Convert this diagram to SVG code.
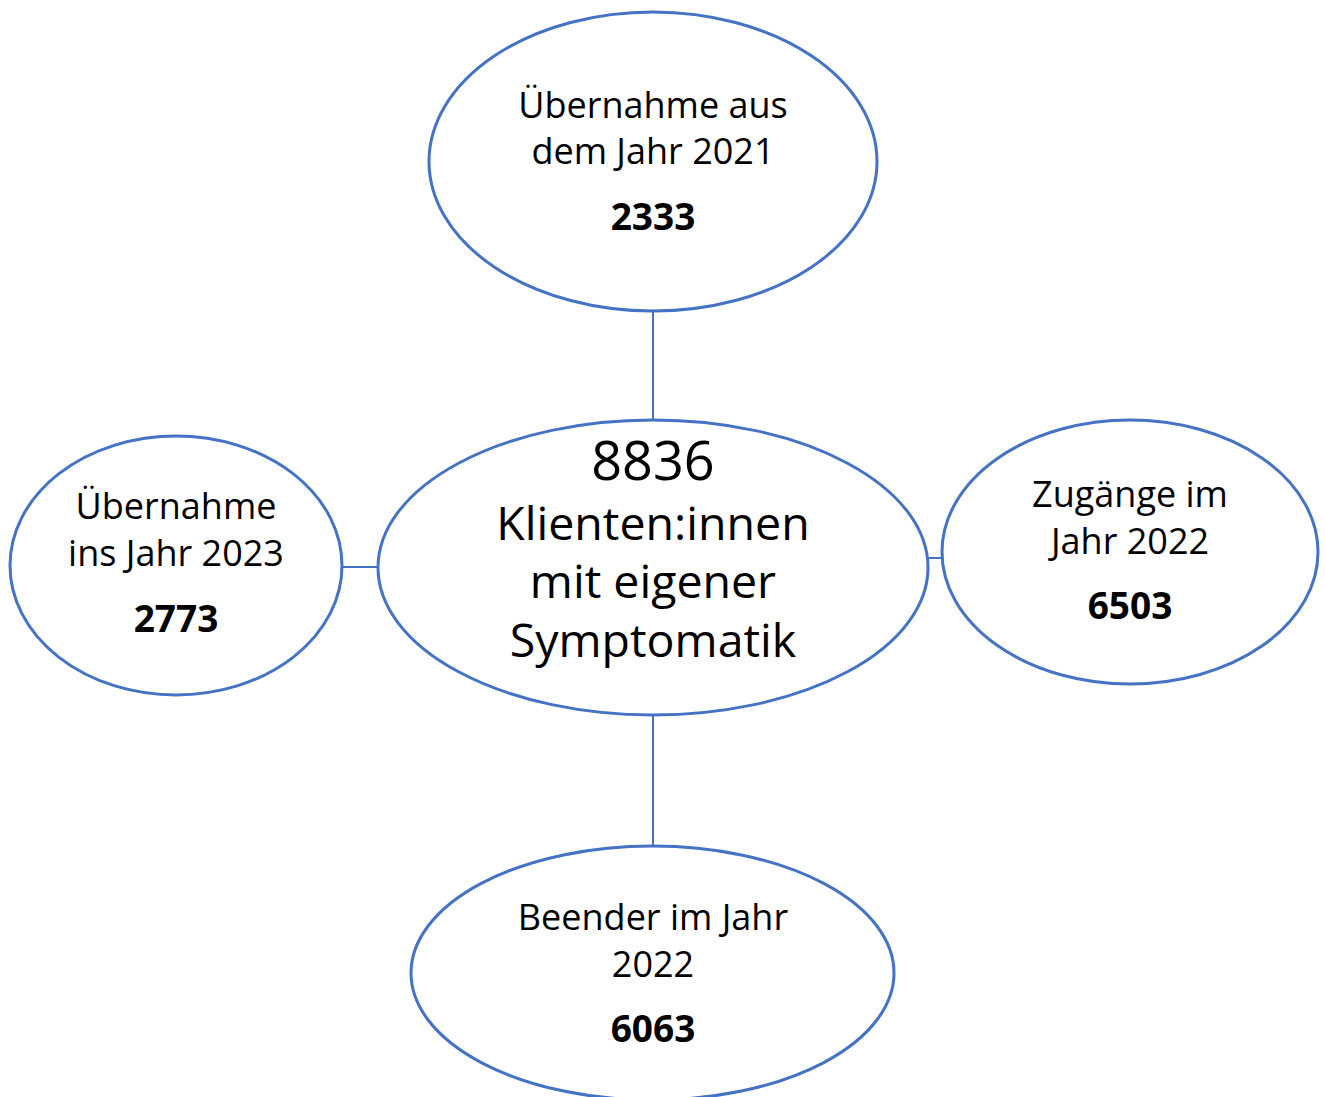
<svg xmlns="http://www.w3.org/2000/svg" width="1325" height="1097" viewBox="0 0 1325 1097">
<style>
.node{fill:#fff;stroke:#4472C4;stroke-width:3}
.conn line{stroke:#4472C4;stroke-width:2}
text{font-family:"Open Sans","Noto Sans",sans-serif;fill:#000;text-anchor:middle}
.t{font-size:36px}
.b{font-size:37px;font-weight:bold}
.c{font-size:46.5px}
.n{font-size:54px}
</style>
<rect width="1325" height="1097" fill="#fff"/>
<g class="conn" id="connectors">
<line x1="653" y1="311" x2="653" y2="420"/>
<line x1="653" y1="715" x2="653" y2="846"/>
<line x1="342" y1="567" x2="378" y2="567"/>
<line x1="928" y1="558" x2="942" y2="558"/>
</g>
<g id="top">
<ellipse class="node" cx="653" cy="161.5" rx="224" ry="149.5"/>
<text class="t" x="653" y="118">Übernahme aus</text>
<text class="t" x="653" y="164">dem Jahr 2021</text>
<text class="b" x="653" y="230">2333</text>
</g>
<g id="center">
<ellipse class="node" cx="653" cy="567.5" rx="275" ry="147.5"/>
<text class="n" x="653" y="480">8836</text>
<text class="c" x="653" y="540">Klienten:innen</text>
<text class="c" x="653" y="598">mit eigener</text>
<text class="c" x="653" y="657">Symptomatik</text>
</g>
<g id="left">
<ellipse class="node" cx="176" cy="565.5" rx="166" ry="129.5"/>
<text class="t" x="176" y="519">Übernahme</text>
<text class="t" x="176" y="566">ins Jahr 2023</text>
<text class="b" x="176" y="632">2773</text>
</g>
<g id="right">
<ellipse class="node" cx="1130" cy="552" rx="188" ry="132"/>
<text class="t" x="1130" y="507">Zugänge im</text>
<text class="t" x="1130" y="554">Jahr 2022</text>
<text class="b" x="1130" y="619">6503</text>
</g>
<g id="bottom">
<ellipse class="node" cx="652.5" cy="973" rx="241.5" ry="127"/>
<text class="t" x="653" y="930">Beender im Jahr</text>
<text class="t" x="653" y="977">2022</text>
<text class="b" x="653" y="1042">6063</text>
</g>
</svg>
